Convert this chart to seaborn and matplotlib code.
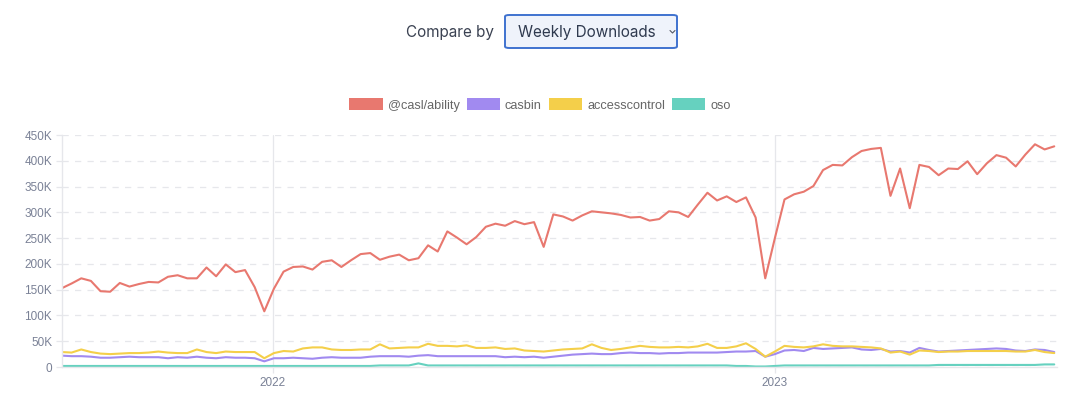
import pandas as pd
import matplotlib
matplotlib.use("Agg")
import matplotlib.pyplot as plt
import seaborn as sns
from matplotlib.patches import Patch, FancyBboxPatch
from matplotlib.lines import Line2D
from matplotlib.ticker import FuncFormatter

# weekly downloads, thousands
start_date = "2021-08-01"
packages = ["@casl/ability", "casbin", "accesscontrol", "oso"]
colors = ["#e8786f", "#a18af0", "#f4cf4a", "#66d1bf"]

casl = [153, 162, 172, 167, 147, 146, 163, 156, 161, 165,
        164, 175, 178, 172, 172, 193, 176, 199, 184, 188,
        155, 108, 152, 185, 194, 195, 189, 204, 207, 194,
        207, 219, 221, 208, 214, 218, 207, 211, 236, 224,
        263, 251, 238, 252, 272, 278, 274, 283, 277, 281,
        233, 296, 292, 284, 294, 302, 300, 298, 295, 290,
        291, 284, 287, 302, 300, 291, 315, 338, 323, 331,
        320, 329, 290, 172, 250, 325, 335, 340, 351, 382,
        392, 391, 407, 419, 423, 425, 332, 385, 308, 392,
        388, 372, 385, 384, 399, 374, 395, 411, 406, 389,
        412, 432, 422, 428]

casbin = [22, 21, 21, 20, 18, 18, 19, 20, 19, 19,
          19, 17, 19, 18, 20, 18, 17, 19, 18, 18,
          17, 11, 17, 17, 18, 17, 16, 18, 19, 18,
          18, 18, 20, 21, 21, 21, 20, 22, 23, 21,
          21, 21, 21, 21, 21, 21, 19, 20, 19, 20,
          18, 20, 22, 24, 25, 26, 25, 25, 27, 28,
          27, 27, 26, 27, 27, 28, 28, 28, 28, 29,
          30, 30, 31, 20, 25, 32, 33, 31, 37, 35,
          36, 37, 38, 34, 33, 35, 30, 31, 28, 37,
          33, 30, 31, 32, 33, 34, 35, 36, 35, 32,
          31, 34, 33, 29]

accesscontrol = [29, 28, 34, 29, 26, 25, 26, 27, 27, 28,
                 30, 28, 27, 27, 34, 29, 27, 30, 29, 29,
                 29, 17, 27, 31, 30, 36, 38, 38, 34, 33,
                 33, 34, 34, 44, 36, 37, 38, 38, 45, 41,
                 41, 40, 42, 37, 37, 38, 35, 36, 32, 31,
                 30, 32, 34, 35, 36, 44, 37, 33, 35, 38,
                 41, 39, 38, 38, 39, 38, 40, 45, 37, 37,
                 40, 46, 35, 20, 30, 41, 39, 38, 40, 44,
                 41, 40, 40, 39, 38, 36, 28, 30, 24, 32,
                 31, 29, 30, 30, 31, 31, 31, 31, 31, 30,
                 30, 33, 29, 27]

oso = [2, 2, 2, 2, 2, 2, 2, 2, 2, 2,
       2, 2, 2, 2, 2, 2, 2, 2, 2, 2,
       2, 2, 2, 2, 2, 2, 2, 2, 2, 2,
       2, 2, 2, 3, 3, 3, 3, 7, 3, 3,
       3, 3, 3, 3, 3, 3, 3, 3, 3, 3,
       3, 3, 3, 3, 3, 3, 3, 3, 3, 3,
       3, 3, 3, 3, 3, 3, 3, 3, 3, 3,
       2, 2, 1, 1, 2, 3, 3, 3, 3, 3,
       3, 3, 3, 3, 3, 3, 3, 3, 3, 3,
       3, 4, 4, 4, 4, 4, 4, 4, 4, 4,
       4, 4, 5, 5]

series = [casl, casbin, accesscontrol, oso]
dates = pd.date_range(start_date, periods=len(casl), freq="7D")

frames = []
for name, vals in zip(packages, series):
    frames.append(pd.DataFrame({"week": dates, "downloads": [v * 1000 for v in vals], "package": name}))
df = pd.concat(frames, ignore_index=True)

sns.set_theme(style="white")
plt.rcParams["font.family"] = ["Liberation Sans", "DejaVu Sans"]

fig = plt.figure(figsize=(10.8, 3.99), dpi=100)
ax = fig.add_axes([62 / 1080, 1 - 367 / 399, 995 / 1080, 232 / 399])

sns.lineplot(data=df, x="week", y="downloads", hue="package", hue_order=packages,
             palette=colors, linewidth=1.5, legend=False, ax=ax)

ax.set_xlim(dates[0], dates[-1] + pd.Timedelta(days=2))
ax.set_ylim(0, 450000)
ax.set_yticks(range(0, 450001, 50000))
ax.yaxis.set_major_formatter(FuncFormatter(lambda v, p: "0" if v == 0 else f"{int(v / 1000)}K"))
ax.set_xticks([pd.Timestamp("2022-01-01"), pd.Timestamp("2023-01-01")])
ax.set_xticklabels(["2022", "2023"])
ax.set_xlabel("")
ax.set_ylabel("")

grid_c = "#e6e7eb"
ax.yaxis.grid(True, color=grid_c, linestyle=(0, (5, 5)), linewidth=0.9)
ax.xaxis.grid(True, color=grid_c, linestyle="-", linewidth=0.9)
ax.set_axisbelow(True)
for side in ["top", "right"]:
    ax.spines[side].set_visible(False)
ax.spines["left"].set_color(grid_c)
ax.spines["bottom"].set_color(grid_c)
ax.spines["left"].set_linewidth(1.0)
ax.spines["bottom"].set_linewidth(1.0)
ax.tick_params(axis="both", length=4, width=0.9, color=grid_c, labelsize=8.5,
               labelcolor="#7a8196", pad=3, left=True, bottom=True)

# legend
handles = [Patch(facecolor=c, edgecolor="none") for c in colors]
fig.legend(handles, packages, loc="center", bbox_to_anchor=(0.5, 1 - 105 / 399), ncol=4,
           frameon=False, fontsize=9.2, handlelength=2.6, handleheight=1.0,
           handletextpad=0.4, columnspacing=0.55, labelcolor="#666666")

# "Compare by" selector
fig.text(450 / 1080, 1 - 32 / 399, "Compare by", ha="center", va="center",
         fontsize=11, color="#3b4252", family=["Inter", "DejaVu Sans"])
box = FancyBboxPatch((505 / 1080, 1 - 48 / 399), 172 / 1080, 33 / 399,
                     boxstyle="round,pad=0,rounding_size=0.004", transform=fig.transFigure,
                     facecolor="#eff3fb", edgecolor="#3f72cf", linewidth=1.4)
fig.patches.append(box)
fig.text(587 / 1080, 1 - 32 / 399, "Weekly Downloads", ha="center", va="center",
         fontsize=11, color="#2f3a4f", family=["Inter", "DejaVu Sans"])
fig.lines.append(Line2D([670 / 1080, 672.5 / 1080, 675 / 1080],
                        [1 - 30.5 / 399, 1 - 33 / 399, 1 - 30.5 / 399],
                        transform=fig.transFigure, color="#555b66", linewidth=0.8))

fig.savefig("out.png", dpi=100)
